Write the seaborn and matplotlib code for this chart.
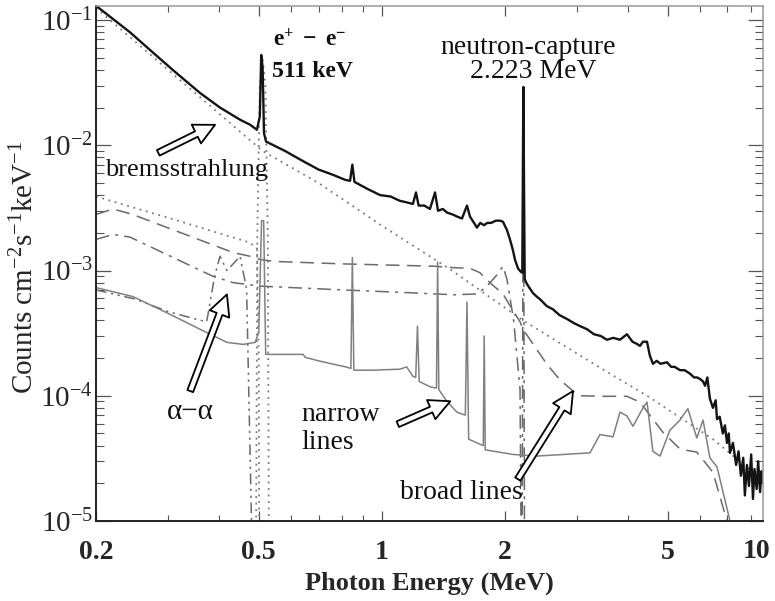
import numpy as np
import pandas as pd
import matplotlib
matplotlib.use("Agg")
import matplotlib.pyplot as plt
import seaborn as sns
from matplotlib.ticker import FixedLocator, NullFormatter, LogLocator

# ---------------- data ----------------
# measured spectrum (black, noisy)
meas_E = [0.200, 0.242, 0.271, 0.308, 0.359, 0.402, 0.450, 0.476, 0.495, 0.503,
          0.507, 0.511, 0.515, 0.521, 0.580, 0.631, 0.700, 0.760, 0.813, 0.836,
          0.847, 0.857, 0.920, 0.990, 1.050, 1.107, 1.150, 1.191, 1.212, 1.230,
          1.270, 1.311, 1.349, 1.372, 1.410, 1.443, 1.490, 1.526, 1.570, 1.615,
          1.642, 1.680, 1.708, 1.740, 1.777, 1.810, 1.850, 1.900, 1.945, 1.978,
          2.023, 2.057, 2.092, 2.116, 2.152, 2.185, 2.205, 2.218, 2.235, 2.264,
          2.300, 2.342, 2.390, 2.436, 2.530, 2.620, 2.720, 2.836, 2.950, 3.050,
          3.174, 3.300, 3.430, 3.551, 3.680, 3.822, 3.975, 4.100, 4.200, 4.276,
          4.350, 4.450, 4.520, 4.600, 4.700, 4.800, 4.980, 5.100, 5.200, 5.360,
          5.500, 5.670, 5.800, 5.900, 6.000, 6.100, 6.170, 6.250, 6.340, 6.450,
          6.550, 6.600, 6.700, 6.820, 6.900, 6.980, 7.050, 7.100, 7.220, 7.350,
          7.450, 7.550, 7.650, 7.720, 7.810, 7.900, 8.000, 8.080, 8.150, 8.250,
          8.320, 8.410, 8.480, 8.550]
meas_v = [0.130, 0.080, 0.0577, 0.040, 0.0262, 0.0200, 0.0160, 0.0146, 0.0133, 0.0170,
          0.0526, 0.0420, 0.0125, 0.0107, 0.0090, 0.0077, 0.0064, 0.0058, 0.0053, 0.0052,
          0.0070, 0.0051, 0.0045, 0.0040, 0.0039, 0.0036, 0.0035, 0.0034, 0.0042, 0.0033,
          0.0033, 0.0031, 0.0042, 0.0030, 0.0031, 0.0029, 0.0028, 0.0027, 0.0026, 0.0033,
          0.0027, 0.0024, 0.0022, 0.0024, 0.0023, 0.0024, 0.0024, 0.0025, 0.0025, 0.00245,
          0.0021, 0.00177, 0.00145, 0.00122, 0.00104, 0.00098, 0.00096, 0.0292, 0.00085, 0.00078,
          0.00072, 0.00066, 0.00062, 0.00059, 0.00052, 0.00049, 0.00044, 0.00041, 0.00038, 0.00036,
          0.00034, 0.00031, 0.00030, 0.00028, 0.00029, 0.00028, 0.00031, 0.00027, 0.00026, 0.00025,
          0.00027, 0.00027, 0.00021, 0.00018, 0.00019, 0.00018, 0.000185, 0.00017, 0.00017, 0.00016,
          0.00016, 0.00015, 0.00014, 0.00014, 0.000136, 0.00013, 0.00012, 0.00014, 0.000095, 0.00008,
          0.000092, 0.000065, 0.000068, 0.000050, 0.000058, 0.000042, 0.000050, 0.000035, 0.000042, 0.000028,
          0.000036, 0.000023, 0.000032, 0.000016, 0.000028, 0.000019, 0.000034, 0.000015, 0.000026, 0.000018,
          0.000030, 0.000017, 0.000025, 0.000020]

# bremsstrahlung continuum (dotted)
brems_E = [0.2, 0.3, 0.4, 0.511, 0.7, 1.0, 1.47, 2.213, 3.41, 4.45, 6.45, 8.55]
brems_v = [0.125, 0.040, 0.0179, 0.0090, 0.0050, 0.00228, 0.00102, 0.00040,
           0.000168, 0.000100, 0.000045, 0.000021]

# positronium continuum (dotted, lower)
pos_E = [0.200, 0.300, 0.476, 0.495, 0.500, 0.503]
pos_v = [0.0039, 0.00264, 0.00167, 0.0015, 0.0002, 1e-7]

# 511 keV annihilation line (dotted)
ann_E = [0.490, 0.496, 0.503, 0.511, 0.519, 0.526, 0.532]
ann_v = [1e-7, 0.002, 0.030, 0.050, 0.030, 0.002, 1e-7]

# alpha-alpha lines
aa_E = [0.200, 0.250, 0.300, 0.350, 0.373, 0.390, 0.402, 0.418, 0.435, 0.450, 0.467, 0.480, 0.488]
aa_v = [7.0e-4, 5.9e-4, 4.7e-4, 4.1e-4, 3.9e-4, 9.0e-4, 1.3e-3, 1.0e-3, 1.15e-3, 1.3e-3, 7.1e-4, 1e-5, 1e-7]

# broad lines (dashed)
broad_E = [0.200, 0.220, 0.246, 0.433, 0.476, 0.506, 0.550, 0.800, 1.107, 1.364,
           1.443, 1.642, 1.738, 1.837, 1.978, 2.090, 2.177, 2.213, 2.534, 2.720,
           2.934, 3.052, 3.500, 3.975, 4.276, 4.600, 4.870, 5.360, 5.890, 6.450,
           6.980, 7.200]
broad_v = [2.8e-3, 3.1e-3, 2.8e-3, 1.39e-3, 1.3e-3, 1.22e-3, 1.18e-3, 1.13e-3, 1.10e-3, 1.08e-3,
           1.06e-3, 1.04e-3, 9.6e-4, 8.0e-4, 6.5e-4, 4.8e-4, 3.9e-4, 3.4e-4, 1.78e-4, 1.35e-4,
           1.09e-4, 1.0e-4, 9.9e-5, 9.9e-5, 8.9e-5, 6.5e-5, 5.1e-5, 3.75e-5, 3.55e-5, 2.45e-5,
           1.0e-5, 5e-6]

# neutron-capture line with its scattered continuum (dash-dot)
ncap_E = [0.200, 0.220, 0.242, 0.386, 0.433, 0.506, 0.800, 1.107, 1.500, 1.710,
          1.807, 1.900, 1.978, 2.023, 2.100, 2.177, 2.200, 2.218, 2.236]
ncap_v = [1.77e-3, 1.94e-3, 1.85e-3, 9.0e-4, 8.0e-4, 7.5e-4, 7.0e-4, 6.7e-4, 6.4e-4, 6.5e-4,
          7.5e-4, 9.0e-4, 1.08e-3, 8.5e-4, 4.0e-4, 1.13e-4, 1e-6, 0.028, 1e-6]

# narrow lines (solid gray)
narrow_E = [0.200, 0.246, 0.298, 0.359, 0.418, 0.458, 0.490, 0.500, 0.508, 0.514,
            0.520, 0.642, 0.649, 0.700, 0.822, 0.840, 0.847, 0.854, 0.950, 1.107,
            1.150, 1.191, 1.210, 1.222, 1.234, 1.311, 1.360, 1.369, 1.378, 1.443,
            1.526, 1.600, 1.615, 1.630, 1.738, 1.770, 1.779, 1.790, 2.092, 2.394,
            3.228, 3.414, 3.674, 3.822, 3.975, 4.112, 4.350, 4.450, 4.600, 4.790,
            5.060, 5.360, 5.600, 5.890, 6.100, 6.340, 6.600, 7.100, 7.300]
narrow_v = [7.3e-4, 6.2e-4, 4.6e-4, 3.4e-4, 2.67e-4, 2.57e-4, 2.67e-4, 3.2e-4, 2.5e-3, 2.5e-3,
            2.14e-4, 2.14e-4, 2.03e-4, 1.9e-4, 1.69e-4, 1.65e-4, 1.27e-3, 1.6e-4, 1.6e-4, 1.63e-4,
            1.7e-4, 1.43e-4, 1.4e-4, 3.6e-4, 1.3e-4, 1.18e-4, 1.15e-4, 1.17e-3, 1.12e-4, 9.0e-5,
            7.4e-5, 7.0e-5, 5.6e-4, 4.5e-5, 4.1e-5, 4.0e-5, 3.0e-4, 3.7e-5, 3.4e-5, 3.3e-5,
            3.5e-5, 4.9e-5, 4.7e-5, 7.4e-5, 6.9e-5, 5.7e-5, 8.0e-5, 8.9e-5, 3.6e-5, 3.3e-5,
            5.3e-5, 6.4e-5, 7.9e-5, 4.6e-5, 6.4e-5, 3.2e-5, 2.7e-5, 1.0e-5, 3e-6]

x_major = [0.2, 0.5, 1, 2, 5]
x_major_labels = ["0.2", "0.5", "1", "2", "5"]
x_minor = [0.3, 0.4, 0.6, 0.7, 0.8, 0.9, 3, 4, 6, 7, 8]
y_major = [1e-5, 1e-4, 1e-3, 1e-2, 1e-1]
y_major_labels = ["$10^{-5}$", "$10^{-4}$", "$10^{-3}$", "$10^{-2}$", "$10^{-1}$"]

# ---------------- style ----------------
sns.set_style("ticks")
plt.rcParams['font.family'] = ['Liberation Serif', 'DejaVu Serif']
plt.rcParams['mathtext.fontset'] = 'custom'
plt.rcParams['mathtext.rm'] = 'Liberation Serif'
plt.rcParams['mathtext.it'] = 'Liberation Serif:italic'
plt.rcParams['mathtext.bf'] = 'Liberation Serif:bold'
plt.rcParams['mathtext.default'] = 'regular'

fig = plt.figure(figsize=(7.75, 6.01), dpi=100)
ax = fig.add_axes([96/775, 1 - 521/601, 667/775, 515/601])
ax.set_xscale('log')
ax.set_yscale('log')


def draw(E, v, **kw):
    df = pd.DataFrame({"E": E, "v": v})
    sns.lineplot(data=df, x="E", y="v", ax=ax, estimator=None, sort=False,
                 legend=False, **kw)


gray = '#7a7a7a'
draw(brems_E, brems_v, color=gray, lw=1.3, linestyle=(0, (1, 2.6)))
draw(pos_E, pos_v, color=gray, lw=1.3, linestyle=(0, (1, 2.6)))
draw(ann_E, ann_v, color=gray, lw=1.3, linestyle=(0, (1, 2.6)))
draw(broad_E, broad_v, color='#6a6a6a', lw=1.1, linestyle=(0, (9, 5)))
draw(ncap_E, ncap_v, color='#6a6a6a', lw=1.1, linestyle=(0, (9, 4, 2, 4)))
draw(aa_E, aa_v, color='#6a6a6a', lw=1.1, linestyle=(0, (7, 3, 1.5, 3, 1.5, 3)))
draw(narrow_E, narrow_v, color='#808080', lw=1.1, linestyle='-')
draw(meas_E, meas_v, color='#141414', lw=1.7, linestyle='-')

ax.set_xlim(0.2, 8.55)
ax.set_ylim(1e-5, 0.1294)
ax.set_xlabel("")
ax.set_ylabel("")

ax.xaxis.set_major_locator(FixedLocator(x_major))
ax.set_xticklabels(x_major_labels, fontweight='bold', fontsize=20)
ax.xaxis.set_minor_locator(FixedLocator(x_minor))
ax.xaxis.set_minor_formatter(NullFormatter())
ax.yaxis.set_major_locator(FixedLocator(y_major))
ax.set_yticklabels(y_major_labels, fontsize=21)
ax.yaxis.set_minor_locator(LogLocator(base=10, subs=np.arange(2, 10)))
ax.yaxis.set_minor_formatter(NullFormatter())

ax.tick_params(which='both', direction='in', top=True, right=True, color='#555')
ax.tick_params(axis='x', which='major', length=7, width=0.9, pad=14)
ax.tick_params(axis='x', which='minor', length=4, width=0.8)
ax.tick_params(axis='y', which='major', length=11, width=0.9, pad=2)
ax.tick_params(axis='y', which='minor', length=5.5, width=0.8)
for s in ['left', 'bottom']:
    ax.spines[s].set_color('#222')
    ax.spines[s].set_linewidth(1.4)
for s in ['top', 'right']:
    ax.spines[s].set_color('#999')
    ax.spines[s].set_linewidth(1.1)

# right-end label of the x axis as in the reference
fig.text(757/775, 1 - 552/601, "10", ha='center', va='center', fontweight='bold', fontsize=20)

fig.text(25/775, 1 - 267/601, "Counts cm$^{-2}$s$^{-1}$keV$^{-1}$", rotation=90,
         ha='center', va='center', fontsize=21)
fig.text(429/775, 1 - 583/601, "Photon Energy (MeV)", ha='center', va='center',
         fontweight='bold', fontsize=19)

# ---------------- annotations ----------------
tc = '#111111'
ax.text(0.667, 0.0693, r"$\mathbf{e^{+}\ -\ e^{-}}$", ha='center', va='center', fontsize=17, color=tc)
ax.text(0.675, 0.0386, "511 keV", ha='center', va='center', fontsize=17, fontweight='bold', color=tc)
ax.text(2.28, 0.0598, "neutron-capture", ha='center', va='center', fontsize=20, color=tc)
ax.text(2.34, 0.0386, "2.223 MeV", ha='center', va='center', fontsize=20, color=tc)
ax.text(0.332, 0.00638, "bremsstrahlung", ha='center', va='center', fontsize=19, color=tc)
ax.text(0.340, 7.4e-5, "α−α", ha='center', va='center', fontsize=21, color=tc)
ax.text(0.637, 5.5e-5, "narrow\nlines", ha='left', va='center', fontsize=20,
        linespacing=1.15, color=tc)
ax.text(1.564, 1.7e-5, "broad lines", ha='center', va='center', fontsize=20, color=tc)

arrow_kw = dict(arrowstyle="simple,head_length=0.75,head_width=0.75,tail_width=0.22",
                fc='white', ec='black', lw=1.3, mutation_scale=20, shrinkA=0, shrinkB=0)
ax.annotate("", xy=(0.391, 0.01456), xytext=(0.284, 0.0087), arrowprops=arrow_kw)
ax.annotate("", xy=(0.418, 6.44e-4), xytext=(0.340, 1.09e-4), arrowprops=arrow_kw)
ax.annotate("", xy=(1.47, 9.04e-5), xytext=(1.094, 5.93e-5), arrowprops=arrow_kw)
ax.annotate("", xy=(2.934, 1.09e-4), xytext=(2.15, 2.16e-5), arrowprops=arrow_kw)

fig.savefig("out.png", dpi=100)
